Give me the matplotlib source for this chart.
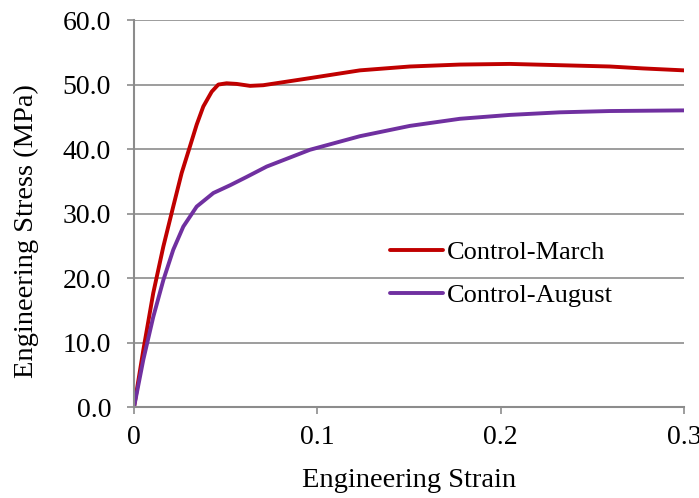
import matplotlib.pyplot as plt
import numpy as np

# engineering stress-strain readings (strain, MPa)
strain_march = [0, 0.0051, 0.0105, 0.016, 0.0214, 0.026, 0.0305, 0.0342, 0.0378, 0.0424,
                0.046, 0.0505, 0.056, 0.0633, 0.0705, 0.096, 0.1232, 0.1505, 0.1778,
                0.205, 0.2323, 0.2595, 0.2777, 0.3]
stress_march = [0, 8.9, 17.7, 24.9, 31.1, 36.3, 40.4, 43.8, 46.6, 48.9,
                50.0, 50.2, 50.1, 49.8, 49.9, 51.0, 52.2, 52.8, 53.1,
                53.2, 53.0, 52.8, 52.5, 52.2]

strain_august = [0, 0.0051, 0.0105, 0.016, 0.0214, 0.0269, 0.0342, 0.0433, 0.0524,
                 0.0615, 0.0724, 0.096, 0.1232, 0.1505, 0.1778, 0.205, 0.2323,
                 0.2595, 0.3]
stress_august = [0, 7.4, 14.0, 19.7, 24.4, 28.0, 31.1, 33.2, 34.4,
                 35.7, 37.3, 39.9, 42.0, 43.6, 44.7, 45.3, 45.7,
                 45.9, 46.0]

x_ticks = [0, 0.1, 0.2, 0.3]
x_ticklabels = ['0', '0.1', '0.2', '0.3']
y_ticks = [0, 10, 20, 30, 40, 50, 60]

plt.rcParams['font.family'] = ['Liberation Serif', 'DejaVu Serif']
grey = '#8c8c8c'

fig = plt.figure(figsize=(6.99, 4.98), dpi=100)
ax = fig.add_axes([0.1917, 0.1821, 0.7868, 0.7777])

ax.plot(strain_march, stress_march, color='#C00000', lw=2.8, label='Control-March',
        solid_capstyle='round', solid_joinstyle='round')
ax.plot(strain_august, stress_august, color='#7030A0', lw=2.8, label='Control-August',
        solid_capstyle='round', solid_joinstyle='round')

ax.set_xlim(0, 0.3)
ax.set_ylim(0, 60)
ax.set_xticks(x_ticks)
ax.set_xticklabels(x_ticklabels)
ax.set_yticks(y_ticks)
ax.set_yticklabels([f'{v:.1f}' for v in y_ticks])
ax.yaxis.grid(True, color=grey, lw=1.2)
ax.set_axisbelow(True)

for side in ['top', 'right']:
    ax.spines[side].set_visible(False)
for side in ['left', 'bottom']:
    ax.spines[side].set_color(grey)
    ax.spines[side].set_linewidth(1.5)
ax.tick_params(axis='both', direction='out', length=5, width=1.2, color=grey,
               labelsize=20, labelcolor='black')
ax.tick_params(axis='x', pad=8)
ax.tick_params(axis='y', pad=11.5)

ax.set_xlabel('Engineering Strain', fontsize=20.5)
ax.set_ylabel('Engineering Stress (MPa)', fontsize=20.5)
ax.xaxis.set_label_coords(0.5, -0.188)
ax.yaxis.set_label_coords(-0.195, 0.455)
ax.xaxis.label.set_va('center')
ax.yaxis.label.set_va('center')

leg = ax.legend(loc='upper left', bbox_to_anchor=(0.422, 0.492), frameon=False,
                fontsize=19, handlelength=2.0, handletextpad=0.15, labelspacing=0.75)

fig.savefig('out.png', dpi=100)
